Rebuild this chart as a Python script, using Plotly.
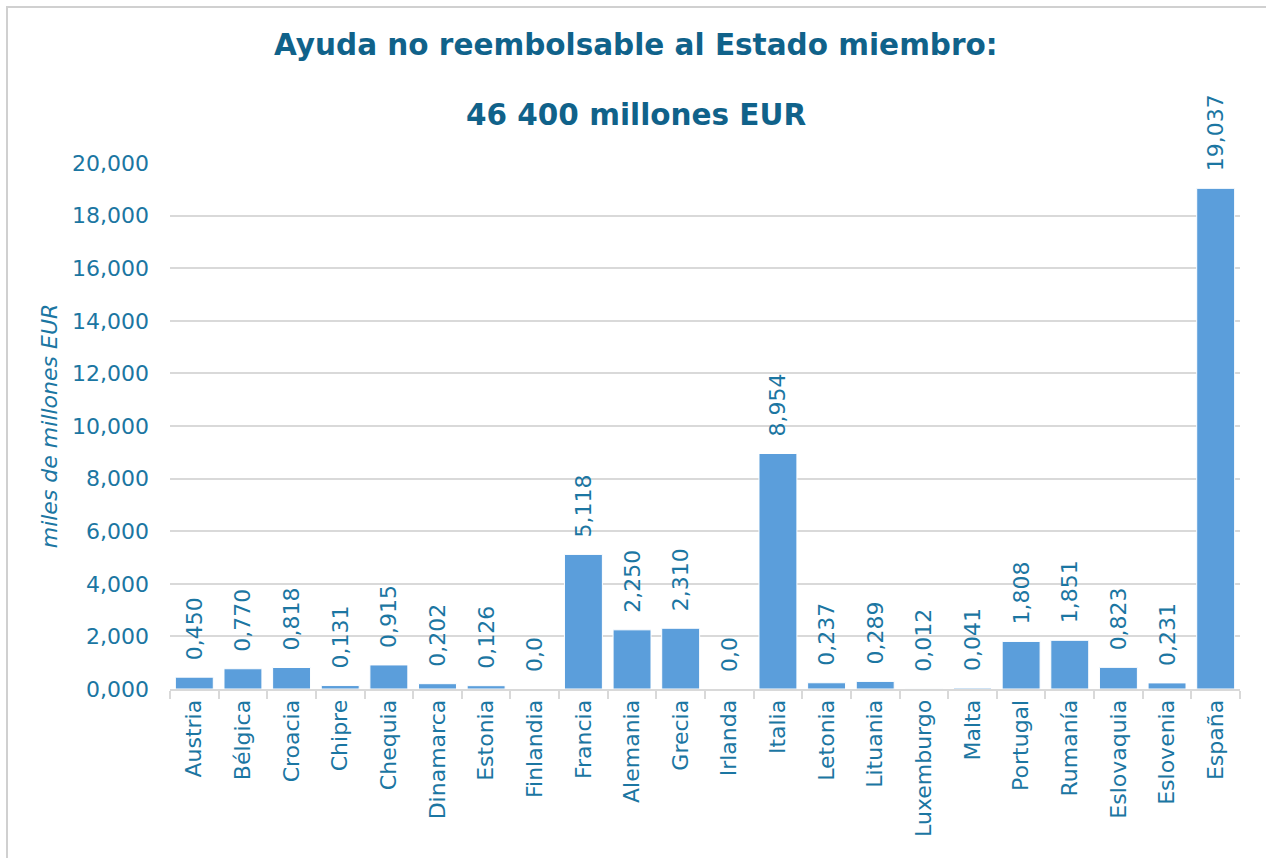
import plotly.graph_objects as go

countries = ["Austria", "Bélgica", "Croacia", "Chipre", "Chequia", "Dinamarca",
             "Estonia", "Finlandia", "Francia", "Alemania", "Grecia", "Irlanda",
             "Italia", "Letonia", "Lituania", "Luxemburgo", "Malta", "Portugal",
             "Rumanía", "Eslovaquia", "Eslovenia", "España"]
values = [0.450, 0.770, 0.818, 0.131, 0.915, 0.202, 0.126, 0.0, 5.118, 2.250,
          2.310, 0.0, 8.954, 0.237, 0.289, 0.012, 0.041, 1.808, 1.851, 0.823,
          0.231, 19.037]
labels = ["0,450", "0,770", "0,818", "0,131", "0,915", "0,202", "0,126", "0,0",
          "5,118", "2,250", "2,310", "0,0", "8,954", "0,237", "0,289", "0,012",
          "0,041", "1,808", "1,851", "0,823", "0,231", "19,037"]
title_line1 = "Ayuda no reembolsable al Estado miembro:"
title_line2 = "46 400 millones EUR"
y_title = "miles de millones EUR"

FONT = "DejaVu Sans"
TXT = "#1b76a2"
TITLE = "#10628a"
BAR = "#5b9edb"
GRID = "#d9d9d9"
FS = 22

fig = go.Figure(go.Bar(
    x=countries, y=values,
    text=["\u00a0\u00a0" + l for l in labels],
    textposition="outside", textangle=-90,
    constraintext="none",
    textfont=dict(family=FONT, size=FS, color=TXT),
    cliponaxis=False,
    marker=dict(color=BAR, line=dict(color="white", width=1)),
))

W, H = 1266, 858
L, R, T, B = 170, 1240, 163, 689
pw, ph = R - L, B - T

def px(x):
    return (x - L) / pw

def py(y):
    return (B - y) / ph

fig.update_layout(
    width=W, height=H,
    margin=dict(l=L, r=W - R, t=T, b=H - B, pad=0),
    paper_bgcolor="white", plot_bgcolor="white",
    separators=",.",
    bargap=0.22,
    showlegend=False,
    font=dict(family=FONT, size=FS, color=TXT),
    xaxis=dict(
        type="category", tickangle=-90, tickson="boundaries",
        ticks="outside", ticklen=8, tickcolor=GRID, tickwidth=2,
        showline=True, linecolor=GRID, linewidth=2,
        showgrid=False,
        tickfont=dict(family=FONT, size=FS, color=TXT),
    ),
    yaxis=dict(
        range=[0, 20], dtick=2, tickformat=".3f",
        showgrid=True, gridcolor=GRID, gridwidth=1.5,
        zeroline=False, showline=False, ticks="",
        ticklabelstandoff=20,
        tickfont=dict(family=FONT, size=FS, color=TXT),
        title=dict(text=y_title, standoff=8,
                   font=dict(family=FONT, size=FS, color=TXT, style="italic")),
    ),
    annotations=[
        dict(text="<b>" + title_line1 + "</b>", xref="paper", yref="paper",
             x=px(636), y=py(45), xanchor="center", yanchor="middle",
             showarrow=False, font=dict(family=FONT, size=29.5, color=TITLE)),
        dict(text="<b>" + title_line2 + "</b>", xref="paper", yref="paper",
             x=px(636), y=py(115), xanchor="center", yanchor="middle",
             showarrow=False, font=dict(family=FONT, size=29.5, color=TITLE)),
    ],
    shapes=[
        dict(type="rect", xref="paper", yref="paper",
             x0=px(7), x1=px(1290), y0=py(890), y1=py(7),
             line=dict(color="#d0d0d0", width=2), layer="below"),
    ],
)

fig.write_html("out.html",
               config={"displayModeBar": False},
               post_script="document.body.style.margin='0px';document.body.style.overflow='hidden';")
